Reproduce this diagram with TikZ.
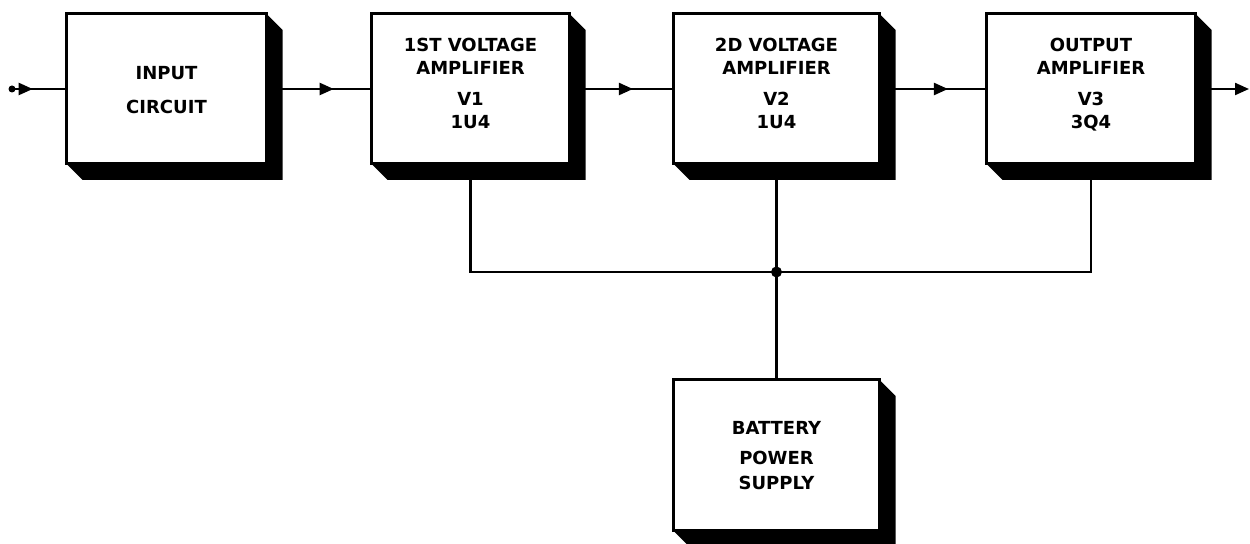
\documentclass[tikz,border=0pt]{standalone}
\usepackage{fontspec}
\newfontfamily\letterfont{DejaVu Sans}
\usetikzlibrary{arrows.meta,decorations.markings}
\newcommand{\lettering}{\letterfont\bfseries\fontsize{9}{11.5}\selectfont}
\newcommand{\lowstrut}{\rule[-6pt]{0pt}{6pt}}

\begin{document}
\begin{tikzpicture}[
  x=0.5pt,y=-0.5pt,
  block/.style={rectangle,draw=black,fill=white,line width=1.5pt,outer sep=0pt,minimum height=75pt,align=center,font=\lettering},
  wire/.style={line width=1.1pt},
  midarrow/.style={postaction={decorate},decoration={markings,mark=at position #1 with {\arrow{Triangle[length=7pt,width=6pt]}}}}
]
\useasboundingbox (0,0) rectangle (1250,544);
\node[block,minimum width=100pt] (inp) at (166.5,89) {\rule{0pt}{8pt}INPUT\\[5.5pt]CIRCUIT};
\node[block,minimum width=99pt] (amp1) at (470.5,89) {1ST VOLTAGE\\AMPLIFIER\\[4pt]V1\\1U4\lowstrut};
\node[block,minimum width=103pt] (amp2) at (776.5,89) {2D VOLTAGE\\AMPLIFIER\\[4pt]V2\\1U4\lowstrut};
\node[block,minimum width=104.5pt] (amp3) at (1091,89) {OUTPUT\\AMPLIFIER\\[4pt]V3\\3Q4\lowstrut};
\node[block,minimum width=103pt,minimum height=75.5pt] (bat) at (776.5,455.5) {BATTERY\\[3.5pt]POWER\\[1pt]SUPPLY};
\coordinate (src) at (12,89);
\coordinate (dst) at (1249,89);
\coordinate (hub) at (776.5,272);

% shadows
\foreach \n in {inp,amp1,amp2,amp3,bat}
  \fill (\n.north east) -- ++(16,16) -- ([shift={(16,16)}]\n.south east)
    -- ([shift={(16,16)}]\n.south west) -- (\n.south west) -- (\n.south east) -- cycle;

% signal path
\draw[wire,midarrow=0.38] (src) -- (inp);
\fill (src) circle (3.5);
\draw[wire,midarrow=0.64] (inp) -- (amp1);
\draw[wire,midarrow=0.61] (amp1) -- (amp2);
\draw[wire,midarrow=0.64] (amp2) -- (amp3);
\draw[wire,-{Triangle[length=7pt,width=6pt]}] (amp3) -- (dst);

% supply bus
\draw[wire] (amp1.south) |- (hub) -| (amp3.south);
\draw[wire] (amp2) -- (hub) -- (bat);
\fill (hub) circle (5.5);
\end{tikzpicture}
\end{document}
